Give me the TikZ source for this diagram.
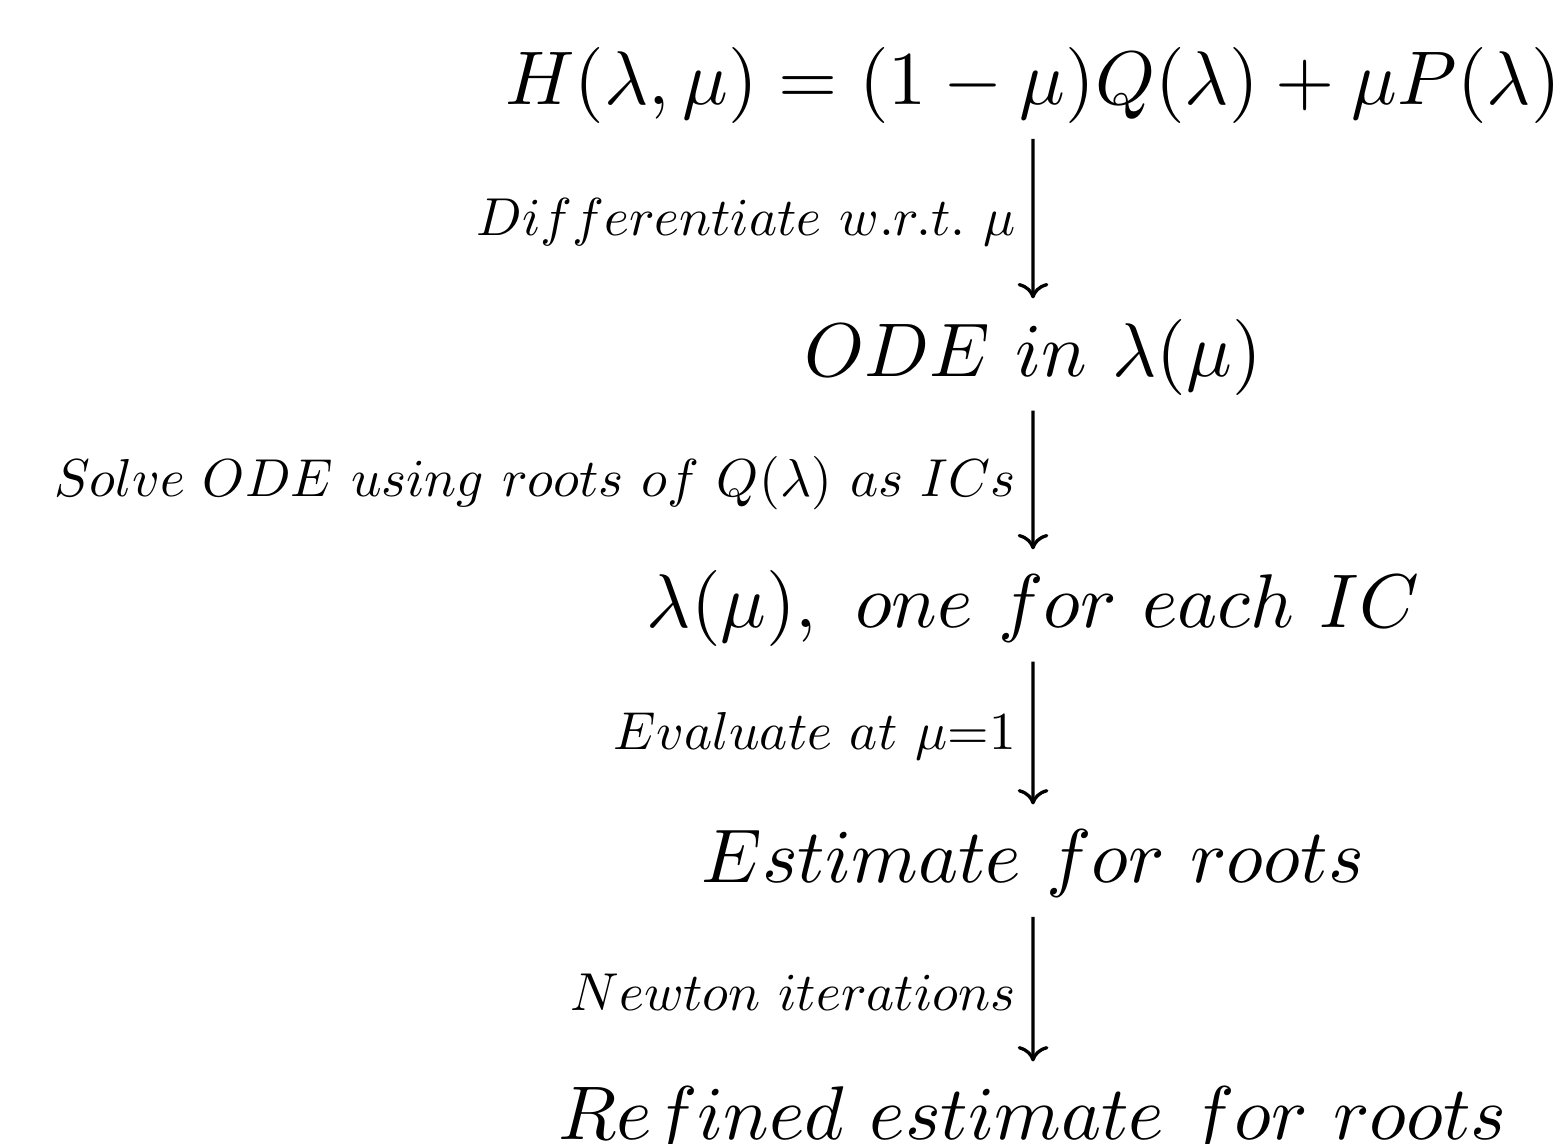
\documentclass[tikz,border=0pt]{standalone}
\usepackage{amsmath}
\usepackage{amssymb}
\usepackage{tikz}
\usetikzlibrary{arrows.meta}

\begin{document}
\begin{tikzpicture}[>={Computer Modern Rightarrow[width=4.2pt,length=2.1pt]}, line width=0.45pt,
    stage/.style={anchor=base, inner sep=0pt, text height=7.5pt, text depth=2.5pt, scale=1.04},
    edgelabel/.style={left, inner sep=3pt, scale=0.73},
    flow/.style={->, shorten <=1.8pt, shorten >=2.7pt}]
    % Frame
    \useasboundingbox (0,0) rectangle (7.511,5.497);
    % Stages, top to bottom
    \node[stage] (hom) at (4.964,4.993) {$H(\lambda,\mu)=(1-\mu)Q(\lambda)+\mu P(\lambda)$};
    \node[stage] (ode) at (4.964,3.686) {$ODE\ in\ \lambda(\mu)$};
    \node[stage] (sol) at (4.964,2.480) {$\lambda(\mu),\ one\ for\ each\ IC$};
    \node[stage] (est) at (4.964,1.254) {$Estimate\ for\ roots$};
    \node[stage] (ref) at (4.964,0.019) {$Refined\ estimate\ for\ roots$};
    % Arrows with labels on the left
    \draw[flow] (hom) -- (ode)
      node[midway, edgelabel] {$Differentiate\ w.r.t.\ \mu$};
    \draw[flow] (ode) -- (sol)
      node[midway, edgelabel] {$Solve\ ODE\ using\ roots\ of\ Q(\lambda)\ as\ ICs$};
    \draw[flow] (sol) -- (est)
      node[midway, edgelabel] {$Evaluate\ at\ \mu{=}1$};
    \draw[flow] (est) -- (ref)
      node[midway, edgelabel] {$Newton\ iterations$};
\end{tikzpicture}
\end{document}
